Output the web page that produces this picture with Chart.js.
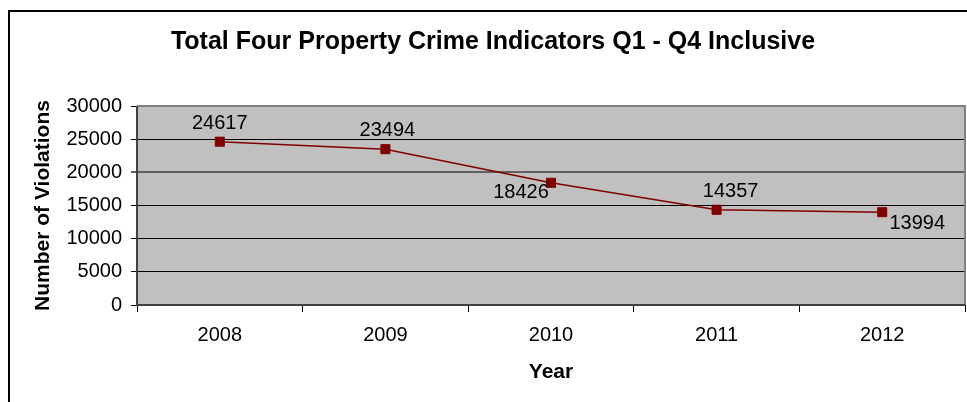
<!DOCTYPE html>
<html>
<head>
<meta charset="utf-8">
<script src="https://cdn.jsdelivr.net/npm/chart.js@4"></script>
<style>
  html, body { margin: 0; padding: 0; background: #fff; }
  #wrap { width: 967px; height: 402px; position: relative; }
</style>
</head>
<body>
<div id="wrap"><canvas id="c" width="967" height="402"></canvas></div>
<script>
const years = ['2008', '2009', '2010', '2011', '2012'];
const violations = [24617, 23494, 18426, 14357, 13994];
const yMin = 0;
const yMax = 30000;
const yStep = 5000;

const chartTitle = 'Total Four Property Crime Indicators Q1 - Q4 Inclusive';
const xTitle = 'Year';
const yTitle = 'Number of Violations';

const FONT = "'Liberation Sans', Arial, sans-serif";

// placement of each value label relative to its marker (px)
const labelPlacement = [
  { dx: 0, dy: -18 },
  { dx: 2, dy: -19 },
  { dx: -30, dy: 10 },
  { dx: 14, dy: -18 },
  { dx: 35, dy: 11 }
];

const framePlugin = {
  id: 'frame',
  beforeDraw(chart) {
    const { ctx, chartArea: a } = chart;
    ctx.save();
    ctx.fillStyle = '#ffffff';
    ctx.fillRect(0, 0, chart.width, chart.height);
    ctx.strokeStyle = '#000000';
    ctx.lineWidth = 2;
    ctx.strokeRect(9, 11, 1100, 1100);
    ctx.fillStyle = '#C0C0C0';
    ctx.fillRect(a.left, a.top, a.right - a.left, a.bottom - a.top);
    ctx.restore();
  },
  beforeDatasetsDraw(chart) {
    const { ctx, chartArea: a } = chart;
    ctx.save();
    ctx.strokeStyle = '#808080';
    ctx.lineWidth = 2;
    ctx.beginPath();
    ctx.moveTo(a.left, a.top);
    ctx.lineTo(a.right, a.top);
    ctx.lineTo(a.right, a.bottom);
    ctx.stroke();
    ctx.strokeStyle = '#404040';
    ctx.beginPath();
    ctx.moveTo(a.left, a.top);
    ctx.lineTo(a.left, a.bottom);
    ctx.lineTo(a.right, a.bottom);
    ctx.stroke();
    ctx.restore();
  }
};

const valueLabels = {
  id: 'valueLabels',
  afterDatasetsDraw(chart) {
    const { ctx } = chart;
    const meta = chart.getDatasetMeta(0);
    ctx.save();
    ctx.font = '20px ' + FONT;
    ctx.fillStyle = '#000000';
    ctx.textAlign = 'center';
    ctx.textBaseline = 'middle';
    meta.data.forEach((pt, i) => {
      const p = labelPlacement[i];
      ctx.fillText(String(violations[i]), pt.x + p.dx, pt.y + p.dy);
    });
    ctx.restore();
  }
};

new Chart(document.getElementById('c'), {
  type: 'line',
  data: {
    labels: years,
    datasets: [{
      data: violations,
      borderColor: '#800000',
      backgroundColor: '#800000',
      borderWidth: 1.5,
      pointStyle: 'rect',
      pointRadius: 6.4,
      pointBorderWidth: 1,
      pointBackgroundColor: '#800000',
      pointBorderColor: '#800000',
      tension: 0,
      fill: false,
      clip: false
    }]
  },
  options: {
    responsive: false,
    animation: false,
    events: [],
    layout: { autoPadding: false, padding: { left: 21, right: 2, top: 0, bottom: 0 } },
    plugins: {
      legend: { display: false },
      tooltip: { enabled: false },
      title: {
        display: true,
        text: chartTitle,
        color: '#000000',
        font: { family: FONT, size: 25, weight: 'bold', lineHeight: 1.2 },
        padding: { top: 27, bottom: 49 }
      }
    },
    scales: {
      x: {
        type: 'category',
        offset: true,
        grid: {
          offset: true,
          drawOnChartArea: false,
          drawTicks: true,
          tickLength: 7,
          color: '#000000',
          lineWidth: 1
        },
        border: { display: false },
        ticks: {
          color: '#000000',
          font: { family: FONT, size: 20, lineHeight: 1.2 },
          padding: 11,
          maxRotation: 0
        },
        title: {
          display: true,
          text: xTitle,
          color: '#000000',
          font: { family: FONT, size: 21, weight: 'bold', lineHeight: 1.2 },
          padding: { top: 0, bottom: 17 }
        },
        afterFit(scale) { scale.height = 97; }
      },
      y: {
        min: yMin,
        max: yMax,
        grid: {
          drawTicks: true,
          tickLength: 6,
          color: (c) => (c.tick && c.tick.value === 20000) ? '#606060' : '#000000',
          lineWidth: (c) => (c.tick && c.tick.value === 20000) ? 2 : 1
        },
        border: { display: false },
        ticks: {
          stepSize: yStep,
          color: '#000000',
          font: { family: FONT, size: 20, lineHeight: 1.2 },
          padding: 9,
          callback: (v) => String(v)
        },
        title: {
          display: true,
          text: yTitle,
          color: '#000000',
          font: { family: FONT, size: 21, weight: 'bold', lineHeight: 1.2 },
          padding: { top: 10, bottom: 0 }
        },
        afterFit(scale) { scale.width = 116; }
      }
    }
  },
  plugins: [framePlugin, valueLabels]
});
</script>
</body>
</html>
